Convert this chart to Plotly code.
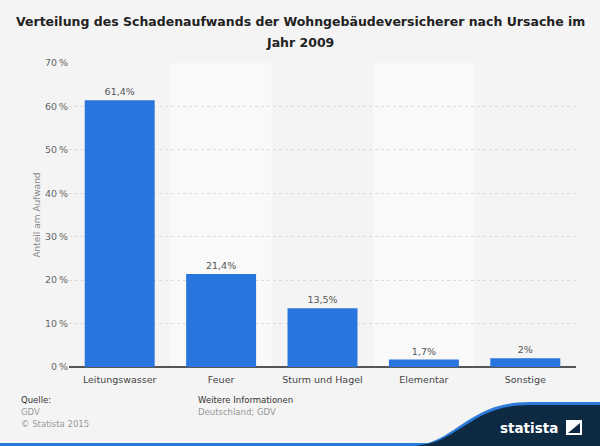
import plotly.graph_objects as go

categories = ["Leitungswasser", "Feuer", "Sturm und Hagel", "Elementar", "Sonstige"]
values = [61.4, 21.4, 13.5, 1.7, 2.0]
y_ticks = [0, 10, 20, 30, 40, 50, 60, 70]

def fmt(v):
    s = ("%.1f" % v).rstrip("0").rstrip(".")
    return s.replace(".", ",") + "%"

labels = [fmt(v) for v in values]
tick_text = ["%d\u2009%%" % t for t in y_ticks]

W, H = 600, 446
pl, pr, pt, pb = 69, 24, 63, 79
pw, ph = W - pl - pr, H - pt - pb

def px(x, y):
    return (x - pl) / pw, 1 - (y - pt) / ph

fig = go.Figure()
fig.add_trace(go.Bar(
    x=categories, y=values, text=labels, textposition="outside",
    textfont=dict(size=9.5, color="#555", family="DejaVu Sans"),
    marker=dict(color="#2876dd", line=dict(width=0)), width=0.69,
    cliponaxis=False, hoverinfo="skip",
))

shapes = []
for i in [1, 3]:
    shapes.append(dict(type="rect", xref="x", yref="y", x0=i - 0.5, x1=i + 0.5, y0=0, y1=70,
                       fillcolor="#f9f9f9", line=dict(width=0), layer="below"))

fig.update_layout(
    width=W, height=H,
    paper_bgcolor="#f4f4f4", plot_bgcolor="#f4f4f4",
    margin=dict(l=pl, r=pr, t=pt, b=pb),
    font=dict(family="DejaVu Sans", color="#555"),
    showlegend=False,
    xaxis=dict(tickfont=dict(size=9.5, color="#444"), showgrid=False, ticks="",
               showline=False, range=[-0.5, 4.5], ticklabelstandoff=5),
    yaxis=dict(range=[0, 70], tickmode="array", tickvals=y_ticks, ticktext=tick_text,
               tickfont=dict(size=9.5, color="#666"), showgrid=True,
               gridcolor="#dcdcdc", griddash="dot", gridwidth=1,
               zeroline=True, zerolinecolor="#555", zerolinewidth=1.5,
               title=dict(text="Anteil am Aufwand", font=dict(size=9, color="#888"), standoff=2),
               ticks="", showline=False),
    shapes=shapes,
)

title_lines = ["Verteilung des Schadenaufwands der Wohngebäudeversicherer nach Ursache im", "Jahr 2009"]
for i, t in enumerate(title_lines):
    tx, ty = px(300, 22 + 20 * i)
    fig.add_annotation(text="<b>%s</b>" % t, xref="paper", yref="paper", x=tx, y=ty,
                       xanchor="center", yanchor="middle", showarrow=False,
                       font=dict(size=12.5, color="#222", family="DejaVu Sans"))

ann = [
    dict(text="Quelle:", x=19, y=400, color="#333"),
    dict(text="GDV", x=19, y=412, color="#999"),
    dict(text="© Statista 2015", x=19, y=424, color="#999"),
    dict(text="Weitere Informationen", x=196, y=400, color="#333"),
    dict(text="Deutschland; GDV", x=196, y=412, color="#999"),
]
for a in ann:
    ax, ay = px(a["x"], a["y"])
    fig.add_annotation(text=a["text"], xref="paper", yref="paper", x=ax, y=ay,
                       xanchor="left", yanchor="middle", showarrow=False,
                       font=dict(size=8.5, color=a["color"], family="DejaVu Sans"))

# bottom blue strip
x0, y0 = px(0, 443); x1, y1 = px(600, 446)
fig.add_shape(type="rect", xref="paper", yref="paper", x0=x0, x1=x1, y0=y1, y1=y0,
              fillcolor="#2b7ad8", line=dict(width=0), layer="above")

def wave(off):
    p = [px(415 - off, 446), px(460 - off, 443), px(470 - off, 405 - off), px(530, 405 - off),
         px(600, 405 - off), px(600, 446)]
    return "M %f,%f C %f,%f %f,%f %f,%f L %f,%f L %f,%f Z" % (p[0] + p[1] + p[2] + p[3] + p[4] + p[5])

fig.add_shape(type="path", xref="paper", yref="paper", path=wave(3),
              fillcolor="#2b7ad8", line=dict(width=0), layer="above")
fig.add_shape(type="path", xref="paper", yref="paper", path=wave(0),
              fillcolor="#0d2a42", line=dict(width=0), layer="above")

lx, ly = px(560, 428)
fig.add_annotation(text="<b>statista</b>", xref="paper", yref="paper", x=lx, y=ly,
                   xanchor="right", yanchor="middle", showarrow=False,
                   font=dict(size=13.5, color="white", family="DejaVu Sans"))
bx0, by0 = px(566, 420); bx1, by1 = px(582, 435)
fig.add_shape(type="rect", xref="paper", yref="paper", x0=bx0, x1=bx1, y0=by1, y1=by0,
              fillcolor="white", line=dict(width=0), layer="above")
fig.add_shape(type="path", xref="paper", yref="paper",
              path="M %f,%f L %f,%f L %f,%f Z" % (px(568, 433) + px(580, 423) + px(580, 433)),
              fillcolor="#0d2a42", line=dict(width=0), layer="above")
fig.add_shape(type="path", xref="paper", yref="paper",
              path="M %f,%f L %f,%f L %f,%f Z" % (px(566, 427) + px(574, 420) + px(566, 420)),
              fillcolor="white", line=dict(width=0), layer="above")

fig.write_html("out.html", config={"displayModeBar": False},
               post_script="document.body.style.margin='0';document.body.style.overflow='hidden';")
